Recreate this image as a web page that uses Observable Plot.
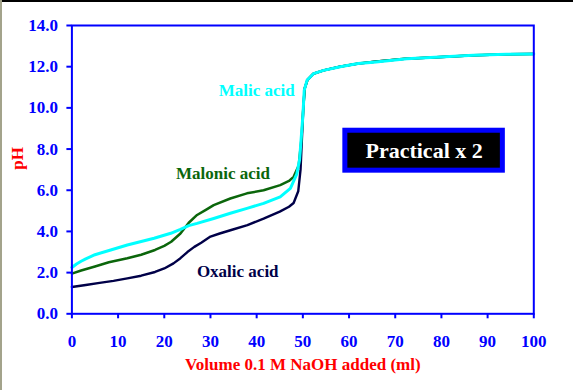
<!DOCTYPE html>
<html><head><meta charset="utf-8">
<script src="https://cdn.jsdelivr.net/npm/d3@7"></script>
<script src="https://cdn.jsdelivr.net/npm/@observablehq/plot@0.6"></script>
<style>
html,body{margin:0;padding:0;background:#fff;}
#wrap{position:relative;width:573px;height:390px;overflow:hidden;background:#fff;}
#wrap svg{position:absolute;left:0;top:0;}
.bt{position:absolute;left:0;top:0;width:573px;height:2px;background:#000;}
.bl{position:absolute;left:0;top:0;width:2px;height:390px;background:#a3a38b;}
</style></head><body><div id="wrap"></div><script>
// Volume of 0.1 M NaOH added (ml) and measured pH for each acid
const volOxalic = [0, 3, 6, 9, 12, 15, 18, 20, 22, 23.5, 25, 26.5, 28, 30, 32, 34.5, 38, 41.5, 45, 47, 48, 49, 49.5, 49.8, 50.1, 50.4, 51, 52.3, 54.5, 58, 62, 66, 72, 80, 87, 94, 100];
const phOxalic  = [1.3, 1.4, 1.5, 1.6, 1.72, 1.85, 2.03, 2.2, 2.45, 2.7, 3.0, 3.25, 3.45, 3.75, 3.9, 4.07, 4.31, 4.62, 4.96, 5.2, 5.38, 5.95, 7.0, 8.5, 10.0, 10.95, 11.36, 11.66, 11.82, 12.0, 12.15, 12.25, 12.38, 12.47, 12.55, 12.6, 12.62];

const volMalonic = [0, 2, 5, 8, 12, 15, 18, 20, 21.5, 23.5, 25.3, 27.1, 29, 30.7, 34.3, 37.9, 41.5, 45.1, 47, 48, 49.1, 49.7, 50.1, 50.4, 51, 52.3, 54.5, 58, 62, 66, 72, 80, 87, 94, 100];
const phMalonic  = [1.95, 2.1, 2.3, 2.5, 2.7, 2.87, 3.1, 3.3, 3.5, 3.9, 4.42, 4.8, 5.05, 5.28, 5.6, 5.85, 6.0, 6.25, 6.45, 6.65, 7.2, 8.5, 10.0, 10.95, 11.36, 11.66, 11.82, 12.0, 12.15, 12.25, 12.38, 12.47, 12.55, 12.6, 12.62];

const volMalic = [0, 1, 2, 3, 5, 8.4, 12, 17.8, 21.4, 23.5, 25.3, 27.1, 30.7, 34.3, 37.9, 41.5, 45.1, 47.3, 48.7, 49.3, 49.6, 50.0, 50.3, 50.9, 52.3, 54.5, 58.1, 62, 65.3, 72.5, 79.7, 86.9, 94.1, 100];
const phMalic  = [2.25, 2.42, 2.55, 2.67, 2.87, 3.1, 3.34, 3.67, 3.91, 4.1, 4.28, 4.39, 4.63, 4.88, 5.12, 5.36, 5.68, 6.09, 6.8, 7.5, 8.4, 9.6, 10.85, 11.34, 11.66, 11.82, 12.0, 12.15, 12.22, 12.39, 12.47, 12.55, 12.6, 12.62];

const xTicks = [0, 10, 20, 30, 40, 50, 60, 70, 80, 90, 100];
const yTicks = [0, 2, 4, 6, 8, 10, 12, 14];

// curve labels (position in data units)
const labelNames = ["Malic acid", "Malonic acid", "Oxalic acid"];
const labelVol   = [40, 32.7, 35.9];
const labelPh    = [10.86, 6.81, 2.05];
const labelColors = ["#00ffff", "#0b660b", "#000048"];

// "Practical x 2" box (data units)
const boxText = "Practical x 2";
const boxVol = [59.2, 93.3];
const boxPh = [6.95, 8.89];

const xTitle = "Volume 0.1 M NaOH added (ml)";
const yTitle = "pH";

const toRows = (vs, ps) => vs.map((v, i) => ({v, pH: ps[i]}));
const oxalic = toRows(volOxalic, phOxalic);
const malonic = toRows(volMalonic, phMalonic);
const malic = toRows(volMalic, phMalic);
const labels = labelNames.map((name, i) => ({name, v: labelVol[i], pH: labelPh[i], c: labelColors[i]}));
const box = [{x1: boxVol[0], x2: boxVol[1], y1: boxPh[0], y2: boxPh[1], t: boxText, xc: (boxVol[0]+boxVol[1])/2, yc: (boxPh[0]+boxPh[1])/2}];

const font = "'Liberation Serif', 'Times New Roman', serif";
const chart = Plot.plot({
  width: 573, height: 390,
  marginLeft: 71.4, marginRight: 39.7, marginTop: 25, marginBottom: 76.7,
  x: {domain: [0, 100]},
  y: {domain: [0, 14]},
  style: {fontFamily: font, fontSize: "17px", background: "white", overflow: "visible"},
  marks: [
    Plot.line(oxalic, {x: "v", y: "pH", stroke: "#000048", strokeWidth: 2.4}),
    Plot.line(malonic, {x: "v", y: "pH", stroke: "#0b660b", strokeWidth: 2.5}),
    Plot.line(malic, {x: "v", y: "pH", stroke: "#00ffff", strokeWidth: 3}),
    Plot.text(labels, {x: "v", y: "pH", text: "name", fill: "c", fontWeight: "bold", fontSize: 17}),
    Plot.rect(box, {x1: "x1", x2: "x2", y1: "y1", y2: "y2", fill: "black", stroke: "#0000ff", strokeWidth: 5}),
    Plot.text(box, {x: "xc", y: "yc", text: "t", fill: "white", fontWeight: "bold", fontSize: 22}),
    Plot.frame({stroke: "#0000ff", strokeWidth: 2}),
    Plot.axisX({ticks: xTicks, tickFormat: d3.format("d"), tickSize: 5, tickPadding: 16, color: "#0000ff", strokeWidth: 2, fontWeight: "bold", label: null}),
    Plot.axisY({ticks: yTicks, tickFormat: d3.format(".1f"), tickSize: 5, tickPadding: 9, color: "#0000ff", strokeWidth: 2, fontWeight: "bold", label: null}),
    Plot.text([xTitle], {frameAnchor: "bottom", dy: 56.3, text: d => d, fill: "#ff0000", fontWeight: "bold", fontSize: 17}),
    Plot.text([yTitle], {frameAnchor: "left", dx: -54, text: d => d, rotate: -90, fill: "#ff0000", fontWeight: "bold", fontSize: 17})
  ]
});
const wrap = document.getElementById("wrap");
wrap.appendChild(chart);
const bt = document.createElement("div"); bt.className = "bt"; wrap.appendChild(bt);
const bl = document.createElement("div"); bl.className = "bl"; wrap.appendChild(bl);
</script></body></html>
